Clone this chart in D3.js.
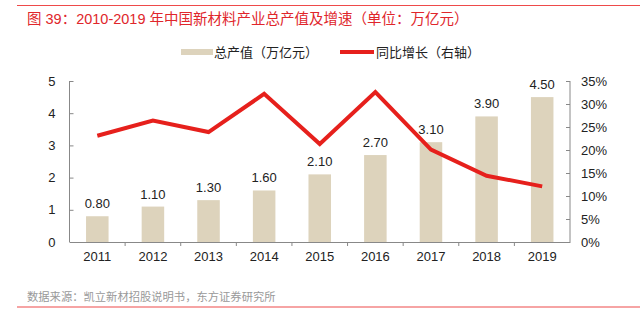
<!DOCTYPE html>
<html><head><meta charset="utf-8">
<script src="https://cdn.jsdelivr.net/npm/d3@7"></script>
<style>body{margin:0;background:#fff;}svg{display:block;font-family:"Liberation Sans",Arial,"Noto Sans CJK SC",sans-serif;}</style>
</head><body>
<script>
const years = ["2011","2012","2013","2014","2015","2016","2017","2018","2019"];
const output = [0.80,1.10,1.30,1.60,2.10,2.70,3.10,3.90,4.50];
const growth = [23.1,26.4,23.9,32.2,21.3,32.6,20.1,14.4,12.1];
const leftTicks = [0,1,2,3,4,5];
const rightTicks = [0,5,10,15,20,25,30,35];
const title = "图 39：2010-2019 年中国新材料产业总产值及增速（单位：万亿元）";
const source = "数据来源：凯立新材招股说明书，东方证券研究所";
const legendNames = ["总产值（万亿元）","同比增长（右轴）"];

const W=644,H=321;
const svg=d3.select("body").append("svg").attr("width",W).attr("height",H);
const cjk='"Noto Sans CJK SC",sans-serif';
const mixed='"Liberation Sans",Arial,"Noto Sans CJK SC",sans-serif';
svg.append("line").attr("x1",17).attr("x2",640).attr("y1",5.5).attr("y2",5.5).attr("stroke","#ee4a4a").attr("stroke-width",1.2);
svg.append("text").attr("x",27).attr("y",24).attr("fill","#e0262b").style("font-family",mixed).style("font-size","14.5px").text(title);
svg.append("line").attr("x1",17).attr("x2",640).attr("y1",307).attr("y2",307).attr("stroke","#ee4a4a").attr("stroke-width",1.2);
svg.append("text").attr("x",27).attr("y",301).attr("fill","#999").style("font-family",cjk).style("font-size","11.3px").text(source);

const x0=69.5,x1=570,yb=242,yt=81;
const x=d3.scaleBand().domain(years).range([x0,x1]).paddingInner(0.595).paddingOuter(0.2975);
const xb=d3.scaleBand().domain(years).range([x0,x1]);
const yL=d3.scaleLinear().domain([0,5]).range([yb,yt]);
const yR=d3.scaleLinear().domain([0,35]).range([yb,yt]);

svg.append("g").selectAll("rect").data(output).join("rect")
 .attr("x",(d,i)=>x(years[i])).attr("width",x.bandwidth())
 .attr("y",d=>yL(d)).attr("height",d=>yb-yL(d)).attr("fill","#ddd3bc");

svg.append("g").selectAll("text").data(output).join("text")
 .attr("x",(d,i)=>xb(years[i])+xb.bandwidth()/2).attr("y",d=>yL(d)-8)
 .attr("text-anchor","middle").attr("fill","#222").style("font-size","13px").text(d=>d.toFixed(2));

const line=d3.line().x((d,i)=>xb(years[i])+xb.bandwidth()/2).y(d=>yR(d));
svg.append("path").datum(growth).attr("d",line).attr("fill","none").attr("stroke","#e6201c").attr("stroke-width",4).attr("stroke-linejoin","miter");

const axL=svg.append("g").attr("transform",`translate(${x0},0)`).call(d3.axisLeft(yL).tickValues(leftTicks).tickSize(-4).tickPadding(14).tickFormat(d3.format("d")));
const axR=svg.append("g").attr("transform",`translate(${x1},0)`).call(d3.axisRight(yR).tickValues(rightTicks).tickSize(-4).tickPadding(11).tickFormat(d=>d+"%"));
const axB=svg.append("g").attr("transform",`translate(0,${yb})`).call(d3.axisBottom(xb).tickSize(0).tickPadding(10));
svg.append("g").selectAll("line").data(d3.range(1,years.length)).join("line")
 .attr("x1",i=>x0+i*xb.step()).attr("x2",i=>x0+i*xb.step()).attr("y1",yb).attr("y2",yb+4).attr("stroke","#888");
[axL,axR,axB].forEach(a=>{a.selectAll("path,line").attr("stroke","#888");a.selectAll("text").attr("fill","#222").style("font-size","13px").style("font-family",'"Liberation Sans",Arial,sans-serif');});
axL.select(".domain").attr("d",`M0,${yb}V${yt}`);
axR.select(".domain").attr("d",`M0,${yb}V${yt}`);

const lg=svg.append("g").style("font-family",cjk).style("font-size","13px").attr("fill","#222");
lg.append("rect").attr("x",181).attr("y",49).attr("width",32).attr("height",6).attr("fill","#ddd3bc");
lg.append("text").attr("x",214).attr("y",57).text(legendNames[0]);
lg.append("line").attr("x1",340).attr("x2",374).attr("y1",52).attr("y2",52).attr("stroke","#e6201c").attr("stroke-width",4);
lg.append("text").attr("x",376).attr("y",57).text(legendNames[1]);
</script>
</body></html>
